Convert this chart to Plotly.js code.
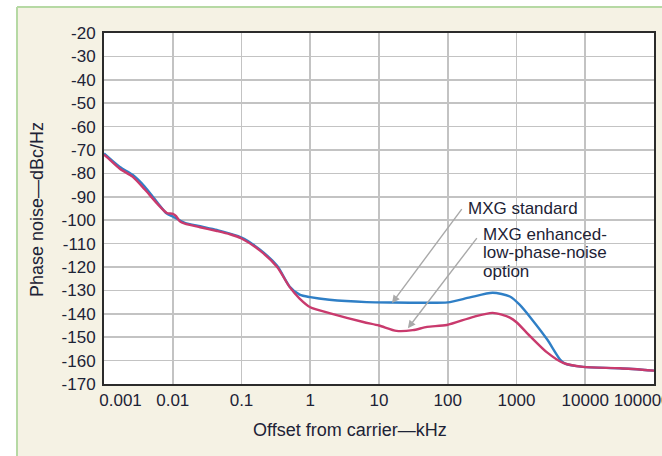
<!DOCTYPE html>
<html>
<head>
<meta charset="utf-8">
<script src="https://cdn.plot.ly/plotly-3.0.1.min.js"></script>
<style>
  html, body { margin: 0; padding: 0; background: #ffffff; }
  #chart { width: 662px; height: 456px; }
</style>
</head>
<body>
<div id="chart"></div>
<script>
// Offset from carrier (kHz) and single-sideband phase noise (dBc/Hz)
const freqStandard = [0.001, 0.0017, 0.0026, 0.0039, 0.0059, 0.0082, 0.01, 0.0127, 0.015, 0.025, 0.044, 0.1, 0.186, 0.33, 0.5, 0.7, 1, 1.9, 6.6, 16, 50, 100, 210, 450, 800, 1100, 1700, 2800, 4300, 5100, 9300, 32000, 100000];
const noiseStandard = [-71.5, -77.3, -80.6, -85.6, -92.2, -97.2, -98.4, -100.1, -101.1, -102.6, -104.2, -107.4, -112.6, -119.5, -128.3, -131.8, -132.9, -134.0, -135.0, -135.2, -135.3, -135.1, -133.0, -131.0, -132.6, -136.0, -142.6, -151.0, -159.5, -161.3, -162.7, -163.3, -164.3];

const freqEnhanced = [0.001, 0.0011, 0.0017, 0.0026, 0.0039, 0.0059, 0.0082, 0.01, 0.0112, 0.0127, 0.015, 0.025, 0.044, 0.068, 0.1, 0.186, 0.33, 0.5, 0.7, 1, 1.9, 5.9, 10, 18, 31, 50, 97, 230, 450, 800, 1000, 1570, 2780, 4750, 9300, 32000, 100000];
const noiseEnhanced = [-72.0, -73.0, -78.0, -81.4, -86.8, -92.8, -96.9, -97.3, -98.3, -100.5, -101.5, -103.0, -104.6, -106.0, -107.8, -113.0, -120.0, -128.5, -133.5, -137.2, -139.7, -143.5, -145.0, -147.3, -147.0, -145.6, -144.8, -141.4, -139.6, -141.6, -143.6, -149.5, -156.5, -161.0, -162.7, -163.3, -164.3];

// Axis ticks
const xTickVals = [0.001, 0.01, 0.1, 1, 10, 100, 1000, 10000, 100000];
const xTickText = ['\u00a0\u00a0\u00a0\u00a0\u00a0\u00a0\u00a00.001', '0.01', '0.1', '1', '10', '100', '1000', '10000', '100000\u00a0\u00a0\u00a0\u00a0\u00a0'];
const yTickVals = [-20, -30, -40, -50, -60, -70, -80, -90, -100, -110, -120, -130, -140, -150, -160, -170];
const yTickText = yTickVals.map(v => '-' + Math.abs(v));

const FONT = '"Liberation Sans", Arial, Helvetica, sans-serif';
const TEXT = '#1d2336';
const PANEL = '#f5f2e4';
const PANEL_EDGE = '#b6d9a4';

const traces = [
  {
    x: freqStandard, y: noiseStandard, type: 'scatter', mode: 'lines',
    name: 'MXG standard',
    line: { color: '#2f7fc6', width: 2.4, shape: 'spline', smoothing: 0.7 },
    hoverinfo: 'skip'
  },
  {
    x: freqEnhanced, y: noiseEnhanced, type: 'scatter', mode: 'lines',
    name: 'MXG enhanced-low-phase-noise option',
    line: { color: '#c93a6d', width: 2.4, shape: 'spline', smoothing: 0.7 },
    hoverinfo: 'skip'
  }
];

// Helpers for placing things in paper space relative to the 550x351 plot box
const L = 104, T = 33, W = 550, H = 351;
const px = x => (x - L) / W;
const py = y => (T + H - y) / H;

const arrowStyle = {
  text: '', showarrow: true, arrowhead: 2, arrowsize: 1.1, arrowwidth: 1.4,
  arrowcolor: '#a9a9a9', xref: 'x', yref: 'y', axref: 'x', ayref: 'y'
};
const labelStyle = {
  showarrow: false, xref: 'paper', yref: 'paper', xanchor: 'left', yanchor: 'middle',
  font: { family: FONT, size: 17, color: TEXT }
};

const layout = {
  width: 662, height: 456,
  margin: { l: L, r: 662 - L - W, t: T, b: 456 - T - H, pad: 0 },
  paper_bgcolor: PANEL,
  plot_bgcolor: '#ffffff',
  showlegend: false,
  font: { family: FONT, size: 17, color: TEXT },
  xaxis: {
    type: 'log', range: [-3, 5],
    tickmode: 'array', tickvals: xTickVals, ticktext: xTickText,
    ticks: '', showgrid: true, gridcolor: '#c3c3c3', gridwidth: 1.7,
    showline: true, linecolor: '#2b2b2b', linewidth: 2, mirror: true,
    zeroline: false, ticklabelstandoff: 0, ticklabeloverflow: 'allow',
    tickfont: { family: FONT, size: 17, color: TEXT }
  },
  yaxis: {
    range: [-170, -20],
    tickmode: 'array', tickvals: yTickVals, ticktext: yTickText,
    ticks: '', showgrid: true, gridcolor: '#c3c3c3', gridwidth: 1.7,
    showline: true, linecolor: '#2b2b2b', linewidth: 2, mirror: true,
    zeroline: false, ticklabelstandoff: 3,
    tickfont: { family: FONT, size: 17, color: TEXT }
  },
  shapes: [
    // white margin outside the framed panel
    { type: 'rect', xref: 'paper', yref: 'paper', x0: -1, x1: px(17), y0: -1, y1: 2,
      fillcolor: '#ffffff', line: { width: 0 }, layer: 'below' },
    { type: 'rect', xref: 'paper', yref: 'paper', x0: -1, x1: 2, y0: py(7), y1: 2,
      fillcolor: '#ffffff', line: { width: 0 }, layer: 'below' },
    // green panel edge
    { type: 'line', xref: 'paper', yref: 'paper', x0: px(17), x1: px(17), y0: -1, y1: py(7),
      line: { color: PANEL_EDGE, width: 2 }, layer: 'below' },
    { type: 'line', xref: 'paper', yref: 'paper', x0: px(17), x1: 2, y0: py(7), y1: py(7),
      line: { color: PANEL_EDGE, width: 2 }, layer: 'below' }
  ],
  annotations: [
    Object.assign({}, arrowStyle, { x: 1.19, y: -135.4, ax: 2.22, ay: -94.6 }),
    Object.assign({}, arrowStyle, { x: 1.42, y: -146.2, ax: 2.44, ay: -107.0 }),
    Object.assign({}, labelStyle, { x: px(466), y: py(208), text: 'MXG standard' }),
    Object.assign({}, labelStyle, { x: px(481), y: py(234), text: 'MXG enhanced-' }),
    Object.assign({}, labelStyle, { x: px(481), y: py(252.5), text: 'low-phase-noise' }),
    Object.assign({}, labelStyle, { x: px(481), y: py(271), text: 'option' }),
    // axis titles
    { text: 'Offset from carrier\u2014kHz', showarrow: false, xref: 'paper', yref: 'paper',
      x: px(350), y: py(430), xanchor: 'center', yanchor: 'middle',
      font: { family: FONT, size: 18, color: TEXT } },
    { text: 'Phase noise\u2014dBc/Hz', showarrow: false, xref: 'paper', yref: 'paper',
      x: px(37), y: py(210), xanchor: 'center', yanchor: 'middle', textangle: -90,
      font: { family: FONT, size: 18, color: TEXT } }
  ]
};

Plotly.newPlot('chart', traces, layout, { staticPlot: true, displayModeBar: false });
</script>
</body>
</html>
